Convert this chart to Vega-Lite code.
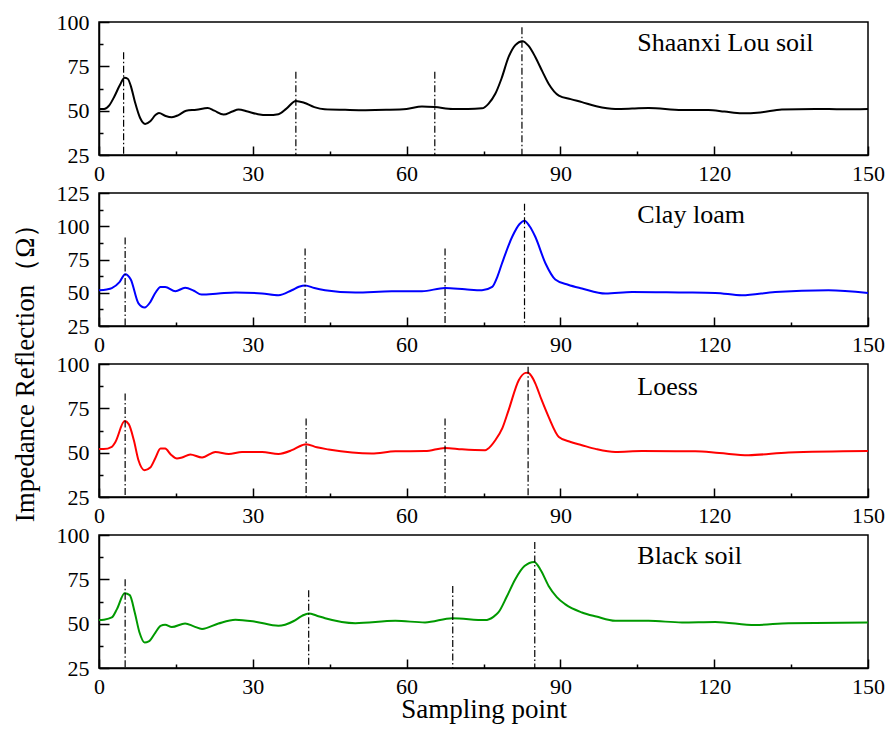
{
  "$schema": "https://vega.github.io/schema/vega-lite/v6.json",
  "autosize": {"type": "pad"},
  "padding": {"left": 12, "top": 10, "right": 5, "bottom": 5},
  "background": "white",
  "bounds": "flush",
  "spacing": 38,
  "title": {"text": "Impedance Reflection（Ω）", "orient": "left", "anchor": "middle", "fontSize": 27, "font": "Liberation Serif", "fontWeight": "normal", "color": "black", "offset": 15},
  "config": {
    "view": {"stroke": "black", "strokeWidth": 1.5},
    "font": "Liberation Serif",
    "axis": {"domainColor": "black", "domainWidth": 1.5, "tickColor": "black", "tickWidth": 1.5, "labelColor": "black", "labelFont": "Liberation Serif", "labelFontSize": 22, "grid": false, "titleFont": "Liberation Serif", "titleFontSize": 27, "titleFontWeight": "normal", "titleColor": "black", "labelFlush": false, "labelOverlap": false}
  },
  "datasets": {
    "curves": [
      {"soil": "Shaanxi Lou soil", "x": 0, "y": 51}, {"soil": "Shaanxi Lou soil", "x": 1, "y": 51}, {"soil": "Shaanxi Lou soil", "x": 2, "y": 53}, {"soil": "Shaanxi Lou soil", "x": 3, "y": 58}, {"soil": "Shaanxi Lou soil", "x": 4, "y": 64}, {"soil": "Shaanxi Lou soil", "x": 5, "y": 68.5}, {"soil": "Shaanxi Lou soil", "x": 5.6, "y": 68}, {"soil": "Shaanxi Lou soil", "x": 6.2, "y": 64}, {"soil": "Shaanxi Lou soil", "x": 7, "y": 55}, {"soil": "Shaanxi Lou soil", "x": 8, "y": 46}, {"soil": "Shaanxi Lou soil", "x": 9, "y": 42.5}, {"soil": "Shaanxi Lou soil", "x": 10, "y": 44}, {"soil": "Shaanxi Lou soil", "x": 11, "y": 47.5}, {"soil": "Shaanxi Lou soil", "x": 11.7, "y": 48.7}, {"soil": "Shaanxi Lou soil", "x": 13, "y": 47}, {"soil": "Shaanxi Lou soil", "x": 14.2, "y": 46.3}, {"soil": "Shaanxi Lou soil", "x": 15.5, "y": 47.5}, {"soil": "Shaanxi Lou soil", "x": 17, "y": 50}, {"soil": "Shaanxi Lou soil", "x": 19, "y": 50.5}, {"soil": "Shaanxi Lou soil", "x": 21.2, "y": 51.5}, {"soil": "Shaanxi Lou soil", "x": 22.5, "y": 50}, {"soil": "Shaanxi Lou soil", "x": 24.3, "y": 47.8}, {"soil": "Shaanxi Lou soil", "x": 26, "y": 49.5}, {"soil": "Shaanxi Lou soil", "x": 27.2, "y": 50.6}, {"soil": "Shaanxi Lou soil", "x": 29, "y": 49.5}, {"soil": "Shaanxi Lou soil", "x": 31, "y": 48}, {"soil": "Shaanxi Lou soil", "x": 33, "y": 47.5}, {"soil": "Shaanxi Lou soil", "x": 35, "y": 48}, {"soil": "Shaanxi Lou soil", "x": 36.5, "y": 51}, {"soil": "Shaanxi Lou soil", "x": 38.4, "y": 55.5}, {"soil": "Shaanxi Lou soil", "x": 40, "y": 54.5}, {"soil": "Shaanxi Lou soil", "x": 42, "y": 52}, {"soil": "Shaanxi Lou soil", "x": 44, "y": 50.8}, {"soil": "Shaanxi Lou soil", "x": 48, "y": 50.5}, {"soil": "Shaanxi Lou soil", "x": 52, "y": 50.3}, {"soil": "Shaanxi Lou soil", "x": 56, "y": 50.5}, {"soil": "Shaanxi Lou soil", "x": 60, "y": 51}, {"soil": "Shaanxi Lou soil", "x": 63, "y": 52.3}, {"soil": "Shaanxi Lou soil", "x": 65.5, "y": 52}, {"soil": "Shaanxi Lou soil", "x": 69, "y": 51}, {"soil": "Shaanxi Lou soil", "x": 72, "y": 51}, {"soil": "Shaanxi Lou soil", "x": 74.7, "y": 51.3}, {"soil": "Shaanxi Lou soil", "x": 76, "y": 54}, {"soil": "Shaanxi Lou soil", "x": 77.3, "y": 59.5}, {"soil": "Shaanxi Lou soil", "x": 78.5, "y": 68}, {"soil": "Shaanxi Lou soil", "x": 79.9, "y": 80.3}, {"soil": "Shaanxi Lou soil", "x": 81.2, "y": 87}, {"soil": "Shaanxi Lou soil", "x": 82.6, "y": 89.2}, {"soil": "Shaanxi Lou soil", "x": 83.8, "y": 86.5}, {"soil": "Shaanxi Lou soil", "x": 85.1, "y": 80.3}, {"soil": "Shaanxi Lou soil", "x": 86.5, "y": 72}, {"soil": "Shaanxi Lou soil", "x": 87.7, "y": 65.2}, {"soil": "Shaanxi Lou soil", "x": 89.7, "y": 58.5}, {"soil": "Shaanxi Lou soil", "x": 92, "y": 56.5}, {"soil": "Shaanxi Lou soil", "x": 94.2, "y": 54.8}, {"soil": "Shaanxi Lou soil", "x": 97, "y": 52.5}, {"soil": "Shaanxi Lou soil", "x": 100.7, "y": 51}, {"soil": "Shaanxi Lou soil", "x": 104, "y": 51.2}, {"soil": "Shaanxi Lou soil", "x": 107.2, "y": 51.5}, {"soil": "Shaanxi Lou soil", "x": 113.7, "y": 50.4}, {"soil": "Shaanxi Lou soil", "x": 118.9, "y": 50.4}, {"soil": "Shaanxi Lou soil", "x": 122, "y": 49.5}, {"soil": "Shaanxi Lou soil", "x": 125.4, "y": 48.5}, {"soil": "Shaanxi Lou soil", "x": 129, "y": 49}, {"soil": "Shaanxi Lou soil", "x": 133.2, "y": 50.6}, {"soil": "Shaanxi Lou soil", "x": 139.7, "y": 51}, {"soil": "Shaanxi Lou soil", "x": 145, "y": 50.8}, {"soil": "Shaanxi Lou soil", "x": 150, "y": 51},

      {"soil": "Clay loam", "x": 0, "y": 51.9}, {"soil": "Clay loam", "x": 1.5, "y": 52.5}, {"soil": "Clay loam", "x": 2.5, "y": 53.5}, {"soil": "Clay loam", "x": 4, "y": 58}, {"soil": "Clay loam", "x": 5.1, "y": 64}, {"soil": "Clay loam", "x": 6.2, "y": 60}, {"soil": "Clay loam", "x": 7.7, "y": 42}, {"soil": "Clay loam", "x": 8.9, "y": 38.9}, {"soil": "Clay loam", "x": 10, "y": 43}, {"soil": "Clay loam", "x": 11, "y": 50}, {"soil": "Clay loam", "x": 12, "y": 54.4}, {"soil": "Clay loam", "x": 12.9, "y": 54.4}, {"soil": "Clay loam", "x": 14.9, "y": 51.2}, {"soil": "Clay loam", "x": 16.8, "y": 53.7}, {"soil": "Clay loam", "x": 18.5, "y": 51.5}, {"soil": "Clay loam", "x": 20, "y": 48.6}, {"soil": "Clay loam", "x": 23.3, "y": 49.4}, {"soil": "Clay loam", "x": 26.6, "y": 50.2}, {"soil": "Clay loam", "x": 31.8, "y": 49.4}, {"soil": "Clay loam", "x": 35, "y": 48.1}, {"soil": "Clay loam", "x": 37.6, "y": 51.9}, {"soil": "Clay loam", "x": 39, "y": 54.5}, {"soil": "Clay loam", "x": 40.2, "y": 55.5}, {"soil": "Clay loam", "x": 42, "y": 53.5}, {"soil": "Clay loam", "x": 44.1, "y": 51.9}, {"soil": "Clay loam", "x": 50, "y": 50.2}, {"soil": "Clay loam", "x": 57.1, "y": 51.1}, {"soil": "Clay loam", "x": 63, "y": 51.1}, {"soil": "Clay loam", "x": 67.5, "y": 53.6}, {"soil": "Clay loam", "x": 71.4, "y": 52.6}, {"soil": "Clay loam", "x": 74.7, "y": 51.9}, {"soil": "Clay loam", "x": 76.7, "y": 54.4}, {"soil": "Clay loam", "x": 77.7, "y": 62}, {"soil": "Clay loam", "x": 78.6, "y": 72}, {"soil": "Clay loam", "x": 80.6, "y": 92.1}, {"soil": "Clay loam", "x": 82, "y": 101.5}, {"soil": "Clay loam", "x": 83, "y": 104.1}, {"soil": "Clay loam", "x": 84, "y": 100}, {"soil": "Clay loam", "x": 85.1, "y": 92.1}, {"soil": "Clay loam", "x": 87.1, "y": 72}, {"soil": "Clay loam", "x": 89, "y": 60}, {"soil": "Clay loam", "x": 91.5, "y": 56}, {"soil": "Clay loam", "x": 94.2, "y": 53.2}, {"soil": "Clay loam", "x": 98.8, "y": 49.4}, {"soil": "Clay loam", "x": 104, "y": 50.6}, {"soil": "Clay loam", "x": 113.7, "y": 50.2}, {"soil": "Clay loam", "x": 120.2, "y": 49.9}, {"soil": "Clay loam", "x": 125.4, "y": 48.1}, {"soil": "Clay loam", "x": 131.9, "y": 50.6}, {"soil": "Clay loam", "x": 142.3, "y": 51.9}, {"soil": "Clay loam", "x": 150, "y": 49.9},

      {"soil": "Loess", "x": 0, "y": 52}, {"soil": "Loess", "x": 0.9, "y": 52}, {"soil": "Loess", "x": 2.5, "y": 53.3}, {"soil": "Loess", "x": 3.2, "y": 56}, {"soil": "Loess", "x": 5, "y": 67.8}, {"soil": "Loess", "x": 5.8, "y": 66.1}, {"soil": "Loess", "x": 6.8, "y": 57}, {"soil": "Loess", "x": 7.7, "y": 45.7}, {"soil": "Loess", "x": 8.9, "y": 40.1}, {"soil": "Loess", "x": 10, "y": 41.6}, {"soil": "Loess", "x": 11, "y": 47}, {"soil": "Loess", "x": 12, "y": 52.3}, {"soil": "Loess", "x": 12.9, "y": 52.3}, {"soil": "Loess", "x": 14, "y": 49}, {"soil": "Loess", "x": 15.2, "y": 46.7}, {"soil": "Loess", "x": 16.2, "y": 47.3}, {"soil": "Loess", "x": 17.8, "y": 49}, {"soil": "Loess", "x": 20.1, "y": 47.3}, {"soil": "Loess", "x": 22.7, "y": 50.4}, {"soil": "Loess", "x": 25.3, "y": 49.3}, {"soil": "Loess", "x": 27.9, "y": 50.4}, {"soil": "Loess", "x": 31.8, "y": 50.4}, {"soil": "Loess", "x": 35, "y": 49.3}, {"soil": "Loess", "x": 37.6, "y": 51.4}, {"soil": "Loess", "x": 39.6, "y": 54.2}, {"soil": "Loess", "x": 40.4, "y": 54.8}, {"soil": "Loess", "x": 42.5, "y": 53}, {"soil": "Loess", "x": 44.8, "y": 51.8}, {"soil": "Loess", "x": 53.2, "y": 49.5}, {"soil": "Loess", "x": 57.8, "y": 50.8}, {"soil": "Loess", "x": 63.6, "y": 50.9}, {"soil": "Loess", "x": 67.5, "y": 52.7}, {"soil": "Loess", "x": 70.8, "y": 51.9}, {"soil": "Loess", "x": 75.3, "y": 51.4}, {"soil": "Loess", "x": 76.5, "y": 54}, {"soil": "Loess", "x": 77.3, "y": 57}, {"soil": "Loess", "x": 78.7, "y": 64}, {"soil": "Loess", "x": 79.9, "y": 74}, {"soil": "Loess", "x": 81.9, "y": 91}, {"soil": "Loess", "x": 83.2, "y": 95}, {"soil": "Loess", "x": 83.7, "y": 95.1}, {"soil": "Loess", "x": 84.4, "y": 93}, {"soil": "Loess", "x": 85.1, "y": 89.1}, {"soil": "Loess", "x": 86.3, "y": 80}, {"soil": "Loess", "x": 87.7, "y": 70.2}, {"soil": "Loess", "x": 89.7, "y": 58.9}, {"soil": "Loess", "x": 92, "y": 56}, {"soil": "Loess", "x": 94.2, "y": 54.2}, {"soil": "Loess", "x": 97, "y": 52}, {"soil": "Loess", "x": 100.7, "y": 50.4}, {"soil": "Loess", "x": 105.9, "y": 50.9}, {"soil": "Loess", "x": 116.3, "y": 50.8}, {"soil": "Loess", "x": 121, "y": 49.8}, {"soil": "Loess", "x": 126.7, "y": 48.6}, {"soil": "Loess", "x": 134.5, "y": 50.1}, {"soil": "Loess", "x": 150, "y": 50.9},

      {"soil": "Black soil", "x": 0, "y": 52}, {"soil": "Black soil", "x": 0.9, "y": 52.2}, {"soil": "Black soil", "x": 2.5, "y": 53.5}, {"soil": "Black soil", "x": 3.5, "y": 58.2}, {"soil": "Black soil", "x": 5, "y": 67.2}, {"soil": "Black soil", "x": 6, "y": 66.1}, {"soil": "Black soil", "x": 7, "y": 56}, {"soil": "Black soil", "x": 7.9, "y": 45}, {"soil": "Black soil", "x": 8.9, "y": 39.4}, {"soil": "Black soil", "x": 9.7, "y": 40}, {"soil": "Black soil", "x": 11, "y": 45}, {"soil": "Black soil", "x": 12, "y": 48.8}, {"soil": "Black soil", "x": 12.9, "y": 49.4}, {"soil": "Black soil", "x": 14.2, "y": 48.1}, {"soil": "Black soil", "x": 16.8, "y": 50.1}, {"soil": "Black soil", "x": 18.5, "y": 48.5}, {"soil": "Black soil", "x": 20.1, "y": 47}, {"soil": "Black soil", "x": 23.3, "y": 50.1}, {"soil": "Black soil", "x": 26.6, "y": 52.2}, {"soil": "Black soil", "x": 30.5, "y": 51.1}, {"soil": "Black soil", "x": 35, "y": 48.8}, {"soil": "Black soil", "x": 36.3, "y": 49.4}, {"soil": "Black soil", "x": 38, "y": 51.5}, {"soil": "Black soil", "x": 39.6, "y": 54.4}, {"soil": "Black soil", "x": 40.9, "y": 55.8}, {"soil": "Black soil", "x": 42.5, "y": 54.5}, {"soil": "Black soil", "x": 44.1, "y": 53.1}, {"soil": "Black soil", "x": 50, "y": 50.3}, {"soil": "Black soil", "x": 57.8, "y": 51.6}, {"soil": "Black soil", "x": 63.6, "y": 50.7}, {"soil": "Black soil", "x": 68.9, "y": 53.1}, {"soil": "Black soil", "x": 75.3, "y": 52}, {"soil": "Black soil", "x": 77, "y": 54}, {"soil": "Black soil", "x": 77.9, "y": 56.3}, {"soil": "Black soil", "x": 79.5, "y": 65}, {"soil": "Black soil", "x": 81.2, "y": 75.1}, {"soil": "Black soil", "x": 83, "y": 82.5}, {"soil": "Black soil", "x": 84.9, "y": 84.8}, {"soil": "Black soil", "x": 86.2, "y": 80}, {"soil": "Black soil", "x": 87.7, "y": 71.3}, {"soil": "Black soil", "x": 89.3, "y": 65}, {"soil": "Black soil", "x": 90.9, "y": 61}, {"soil": "Black soil", "x": 94.2, "y": 56.3}, {"soil": "Black soil", "x": 97, "y": 54}, {"soil": "Black soil", "x": 100.7, "y": 51.6}, {"soil": "Black soil", "x": 107.2, "y": 51.6}, {"soil": "Black soil", "x": 113.7, "y": 50.7}, {"soil": "Black soil", "x": 120.2, "y": 51}, {"soil": "Black soil", "x": 128, "y": 49.2}, {"soil": "Black soil", "x": 134.5, "y": 50.3}, {"soil": "Black soil", "x": 150, "y": 50.7}
    ],
    "peaks": [
      {"soil": "Shaanxi Lou soil", "x": 4.8, "top": 83}, {"soil": "Shaanxi Lou soil", "x": 38.4, "top": 72}, {"soil": "Shaanxi Lou soil", "x": 65.5, "top": 72}, {"soil": "Shaanxi Lou soil", "x": 82.5, "top": 97},
      {"soil": "Clay loam", "x": 5.1, "top": 91.6}, {"soil": "Clay loam", "x": 40.2, "top": 83.3}, {"soil": "Clay loam", "x": 67.5, "top": 83.3}, {"soil": "Clay loam", "x": 83, "top": 117},
      {"soil": "Loess", "x": 5.1, "top": 83.4}, {"soil": "Loess", "x": 40.4, "top": 69.3}, {"soil": "Loess", "x": 67.5, "top": 69.3}, {"soil": "Loess", "x": 83.7, "top": 98.5},
      {"soil": "Black soil", "x": 5.1, "top": 75}, {"soil": "Black soil", "x": 40.9, "top": 68.9}, {"soil": "Black soil", "x": 69, "top": 71.3}, {"soil": "Black soil", "x": 85, "top": 96}
    ],
    "labels": [
      {"soil": "Shaanxi Lou soil"}, {"soil": "Clay loam"}, {"soil": "Loess"}, {"soil": "Black soil"}
    ]
  },
  "vconcat": [
    {
      "width": 769, "height": 133,
      "resolve": {"axis": {"x": "independent", "y": "independent"}},
      "layer": [
        {"data": {"name": "curves"}, "transform": [{"filter": "datum.soil === 'Shaanxi Lou soil'"}],
         "mark": {"type": "line", "color": "black", "strokeWidth": 2, "interpolate": "monotone"},
         "encoding": {
           "x": {"field": "x", "type": "quantitative", "scale": {"domain": [0, 150], "nice": false}, "axis": {"values": [0, 30, 60, 90, 120, 150], "tickSize": -9, "labelPadding": 17, "labelFontSize": 22, "title": null, "orient": "bottom"}},
           "y": {"field": "y", "type": "quantitative", "scale": {"domain": [25, 100], "nice": false, "zero": false}, "axis": {"values": [25, 50, 75, 100], "tickSize": -10, "labelPadding": 20, "labelFontSize": 22, "title": null, "orient": "left"}}}},
        {"data": {"name": "peaks"}, "transform": [{"filter": "datum.soil === 'Shaanxi Lou soil'"}],
         "mark": {"type": "rule", "color": "black", "strokeWidth": 1.2, "strokeDash": [7, 2.5, 1.5, 2.5]},
         "encoding": {
           "x": {"field": "x", "type": "quantitative", "scale": {"domain": [0, 150], "nice": false}, "axis": {"values": [15, 45, 75, 105, 135], "tickSize": -4, "labels": false, "domain": false, "title": null, "orient": "bottom"}},
           "y": {"field": "top", "type": "quantitative", "scale": {"domain": [25, 100], "nice": false, "zero": false}, "axis": {"values": [37.5, 62.5, 87.5], "tickSize": -4, "labels": false, "domain": false, "title": null, "orient": "left"}},
           "y2": {"datum": 25}}},
        {"data": {"name": "labels"}, "transform": [{"filter": "datum.soil === 'Shaanxi Lou soil'"}],
         "mark": {"type": "text", "align": "left", "baseline": "middle", "fontSize": 26, "font": "Liberation Serif", "color": "black"},
         "encoding": {"x": {"datum": 105, "type": "quantitative", "axis": null}, "y": {"datum": 88, "type": "quantitative", "axis": null}, "text": {"field": "soil"}}}
      ]
    },
    {
      "width": 769, "height": 133,
      "resolve": {"axis": {"x": "independent", "y": "independent"}},
      "layer": [
        {"data": {"name": "curves"}, "transform": [{"filter": "datum.soil === 'Clay loam'"}],
         "mark": {"type": "line", "color": "#0000ff", "strokeWidth": 2, "interpolate": "monotone"},
         "encoding": {
           "x": {"field": "x", "type": "quantitative", "scale": {"domain": [0, 150], "nice": false}, "axis": {"values": [0, 30, 60, 90, 120, 150], "tickSize": -9, "labelPadding": 17, "labelFontSize": 22, "title": null, "orient": "bottom"}},
           "y": {"field": "y", "type": "quantitative", "scale": {"domain": [25, 125], "nice": false, "zero": false}, "axis": {"values": [25, 50, 75, 100, 125], "tickSize": -10, "labelPadding": 20, "labelFontSize": 22, "title": null, "orient": "left"}}}},
        {"data": {"name": "peaks"}, "transform": [{"filter": "datum.soil === 'Clay loam'"}],
         "mark": {"type": "rule", "color": "black", "strokeWidth": 1.2, "strokeDash": [7, 2.5, 1.5, 2.5]},
         "encoding": {
           "x": {"field": "x", "type": "quantitative", "scale": {"domain": [0, 150], "nice": false}, "axis": {"values": [15, 45, 75, 105, 135], "tickSize": -4, "labels": false, "domain": false, "title": null, "orient": "bottom"}},
           "y": {"field": "top", "type": "quantitative", "scale": {"domain": [25, 125], "nice": false, "zero": false}, "axis": {"values": [37.5, 62.5, 87.5, 112.5], "tickSize": -4, "labels": false, "domain": false, "title": null, "orient": "left"}},
           "y2": {"datum": 25}}},
        {"data": {"name": "labels"}, "transform": [{"filter": "datum.soil === 'Clay loam'"}],
         "mark": {"type": "text", "align": "left", "baseline": "middle", "fontSize": 26, "font": "Liberation Serif", "color": "black"},
         "encoding": {"x": {"datum": 105, "type": "quantitative", "axis": null}, "y": {"datum": 108.4, "type": "quantitative", "axis": null}, "text": {"field": "soil"}}}
      ]
    },
    {
      "width": 769, "height": 133,
      "resolve": {"axis": {"x": "independent", "y": "independent"}},
      "layer": [
        {"data": {"name": "curves"}, "transform": [{"filter": "datum.soil === 'Loess'"}],
         "mark": {"type": "line", "color": "#ff0000", "strokeWidth": 2, "interpolate": "monotone"},
         "encoding": {
           "x": {"field": "x", "type": "quantitative", "scale": {"domain": [0, 150], "nice": false}, "axis": {"values": [0, 30, 60, 90, 120, 150], "tickSize": -9, "labelPadding": 17, "labelFontSize": 22, "title": null, "orient": "bottom"}},
           "y": {"field": "y", "type": "quantitative", "scale": {"domain": [25, 100], "nice": false, "zero": false}, "axis": {"values": [25, 50, 75, 100], "tickSize": -10, "labelPadding": 20, "labelFontSize": 22, "title": null, "orient": "left"}}}},
        {"data": {"name": "peaks"}, "transform": [{"filter": "datum.soil === 'Loess'"}],
         "mark": {"type": "rule", "color": "black", "strokeWidth": 1.2, "strokeDash": [7, 2.5, 1.5, 2.5]},
         "encoding": {
           "x": {"field": "x", "type": "quantitative", "scale": {"domain": [0, 150], "nice": false}, "axis": {"values": [15, 45, 75, 105, 135], "tickSize": -4, "labels": false, "domain": false, "title": null, "orient": "bottom"}},
           "y": {"field": "top", "type": "quantitative", "scale": {"domain": [25, 100], "nice": false, "zero": false}, "axis": {"values": [37.5, 62.5, 87.5], "tickSize": -4, "labels": false, "domain": false, "title": null, "orient": "left"}},
           "y2": {"datum": 25}}},
        {"data": {"name": "labels"}, "transform": [{"filter": "datum.soil === 'Loess'"}],
         "mark": {"type": "text", "align": "left", "baseline": "middle", "fontSize": 26, "font": "Liberation Serif", "color": "black"},
         "encoding": {"x": {"datum": 105, "type": "quantitative", "axis": null}, "y": {"datum": 87.2, "type": "quantitative", "axis": null}, "text": {"field": "soil"}}}
      ]
    },
    {
      "width": 769, "height": 133,
      "resolve": {"axis": {"x": "independent", "y": "independent"}},
      "layer": [
        {"data": {"name": "curves"}, "transform": [{"filter": "datum.soil === 'Black soil'"}],
         "mark": {"type": "line", "color": "#009900", "strokeWidth": 2, "interpolate": "monotone"},
         "encoding": {
           "x": {"field": "x", "type": "quantitative", "scale": {"domain": [0, 150], "nice": false}, "axis": {"values": [0, 30, 60, 90, 120, 150], "tickSize": -9, "labelPadding": 17, "labelFontSize": 22, "title": "Sampling point", "titlePadding": -1, "orient": "bottom"}},
           "y": {"field": "y", "type": "quantitative", "scale": {"domain": [25, 100], "nice": false, "zero": false}, "axis": {"values": [25, 50, 75, 100], "tickSize": -10, "labelPadding": 20, "labelFontSize": 22, "title": null, "orient": "left"}}}},
        {"data": {"name": "peaks"}, "transform": [{"filter": "datum.soil === 'Black soil'"}],
         "mark": {"type": "rule", "color": "black", "strokeWidth": 1.2, "strokeDash": [7, 2.5, 1.5, 2.5]},
         "encoding": {
           "x": {"field": "x", "type": "quantitative", "scale": {"domain": [0, 150], "nice": false}, "axis": {"values": [15, 45, 75, 105, 135], "tickSize": -4, "labels": false, "domain": false, "title": null, "orient": "bottom"}},
           "y": {"field": "top", "type": "quantitative", "scale": {"domain": [25, 100], "nice": false, "zero": false}, "axis": {"values": [37.5, 62.5, 87.5], "tickSize": -4, "labels": false, "domain": false, "title": null, "orient": "left"}},
           "y2": {"datum": 25}}},
        {"data": {"name": "labels"}, "transform": [{"filter": "datum.soil === 'Black soil'"}],
         "mark": {"type": "text", "align": "left", "baseline": "middle", "fontSize": 26, "font": "Liberation Serif", "color": "black"},
         "encoding": {"x": {"datum": 105, "type": "quantitative", "axis": null}, "y": {"datum": 88.2, "type": "quantitative", "axis": null}, "text": {"field": "soil"}}}
      ]
    }
  ]
}
